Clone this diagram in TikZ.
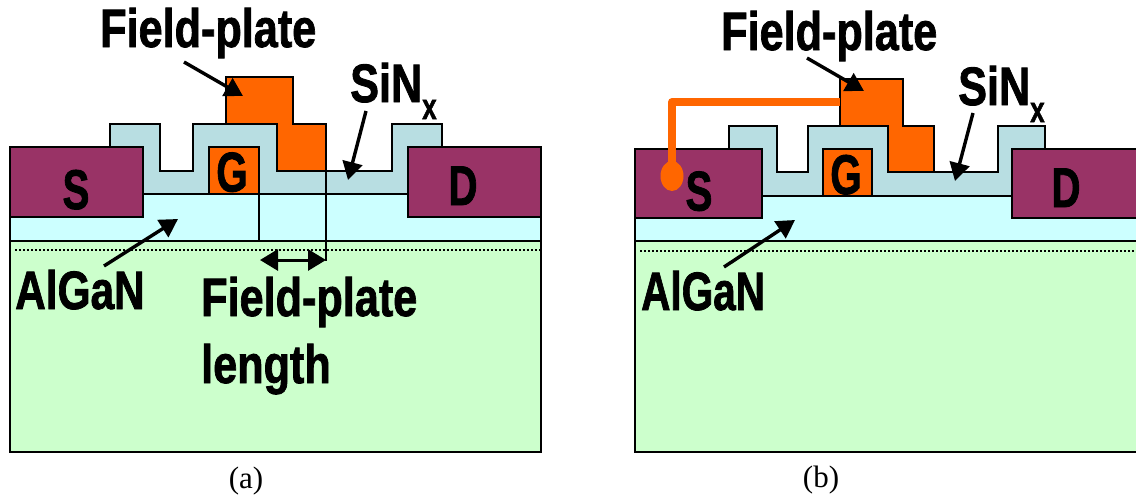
\documentclass[tikz,border=0pt]{standalone}
\usepackage{fontspec}
\setmainfont{Liberation Sans}[BoldFeatures={FakeBold=1.6}]
\newfontfamily\capfont{Liberation Serif}
\usetikzlibrary{arrows.meta}
\definecolor{bufferc}{RGB}{204,255,255}
\definecolor{substratec}{RGB}{204,255,204}
\definecolor{nitridec}{RGB}{184,222,226}
\definecolor{contactc}{RGB}{153,51,102}
\definecolor{platec}{RGB}{255,102,0}
\newcommand{\narrow}[2][.8]{\scalebox{#1}[1]{#2}}
\newcommand{\subx}{\raisebox{-17pt}{\fontsize{36}{36}\selectfont\narrow[.72]{x}}}
\tikzset{
  layer/.style={draw=black,line width=2.1},
  dotline/.style={dash pattern={on 2pt off 2pt},line width=2},
  label/.style={inner sep=0,anchor=base west,font=\fontsize{54}{54}\selectfont\bfseries},
  letter/.style={inner sep=0,anchor=base,font=\fontsize{56}{56}\selectfont\bfseries},
  pointer/.style={line width=3.4,-{Triangle[length=18,width=20]}},
  caption/.style={inner sep=0,anchor=base,font=\fontsize{31}{31}\selectfont\capfont}
}
\begin{document}
\begin{tikzpicture}[x=1pt,y=1pt,yscale=-1,xscale=1]
\clip (0,0) rectangle (1136,496);

%Panel a: layers
\draw [layer,fill=substratec] (10,241) rectangle (541,452);
\draw [layer,fill=bufferc] (10,194) rectangle (541,241);
\draw [dotline] (15,250) -- (541,250);
%Panel a: nitride
\draw [layer,fill=nitridec] (110,194) -- (110,124) -- (160,124) -- (160,171) -- (193,171) -- (193,124) -- (277,124) -- (277,171) -- (392,171) -- (392,124) -- (442,124) -- (442,194) -- cycle;
%Panel a: plate and gate
\draw [layer,fill=platec] (226,124) -- (226,77) -- (293,77) -- (293,124) -- (326,124) -- (326,171) -- (277,171) -- (277,124) -- cycle;
\draw [layer,fill=platec] (209,147) rectangle (259,194);
%Panel a: contacts
\draw [layer,fill=contactc] (10,147) rectangle (143,217);
\draw [layer,fill=contactc] (408,147) rectangle (541,217);
%Panel a: length marks
\coordinate (gateedge) at (259,194);
\coordinate (gatefoot) at (259,240);
\coordinate (plateedge) at (326,171);
\coordinate (platefoot) at (326,261);
\coordinate (lenleft) at (260,260);
\draw [line width=2.1] (gateedge) -- (gatefoot);
\draw [line width=2.1] (plateedge) -- (platefoot);
\draw [line width=3,{Triangle[length=18,width=21]}-{Triangle[length=18,width=21]}] (lenleft) -- (platefoot |- lenleft);

%Panel b: layers
\draw [layer,fill=substratec] (635,241) rectangle (1145,452);
\draw [layer,fill=bufferc] (635,196) rectangle (1145,241);
\draw [dotline] (640,251) -- (1136,251);
%Panel b: nitride
\draw [layer,fill=nitridec] (729,196) -- (729,126) -- (777,126) -- (777,172) -- (808,172) -- (808,126) -- (888,126) -- (888,172) -- (998,172) -- (998,126) -- (1045,126) -- (1045,196) -- cycle;
%Panel b: plate and gate
\draw [layer,fill=platec] (840,126) -- (840,79) -- (903,79) -- (903,126) -- (934,126) -- (934,172) -- (888,172) -- (888,126) -- cycle;
\draw [layer,fill=platec] (823,149) rectangle (872,196);
%Panel b: contacts
\draw [layer,fill=contactc] (635,149) rectangle (762,218);
\draw [layer,fill=contactc] (1012,149) rectangle (1145,218);
%Panel b: wire
\coordinate (wireend) at (840,102);
\coordinate (wirecorner) at (672,102);
\coordinate (wirefoot) at (672,176);
\draw [platec,line width=8,line join=round] (wireend) -- (wirecorner) -- (wirefoot);
\fill [platec] (wirefoot) ellipse [x radius=11.5,y radius=15];

% Text Node
\node (plateA) [label] at (100,47) {\narrow{Field-plate}};
\node (nitrideA) [label] at (350,102) {\narrow{SiN}\subx};
\node (bufferA) [label] at (15,309) {\narrow[.785]{AlGaN}};
\node (lengthA) [label] at (201,316) {\narrow{Field-plate}};
\node (lengthB) [label] at (201,383) {\narrow{length}};
\node (sourceA) [letter] at (76,209) {\narrow[.72]{S}};
\node (gateA) [letter] at (232,191.5) {\narrow[.72]{G}};
\node (drainA) [letter] at (463,205) {\narrow[.72]{D}};
\node (capA) [caption] at (246,488) {(a)};
\node (plateC) [label] at (721,50) {\narrow{Field-plate}};
\node (nitrideC) [label] at (958,105) {\narrow{SiN}\subx};
\node (bufferC) [label] at (641,310) {\narrow[.75]{AlGaN}};
\node (sourceC) [letter] at (699,210.5) {\narrow[.72]{S}};
\node (gateC) [letter] at (846,194) {\narrow[.72]{G}};
\node (drainC) [letter] at (1066,207) {\narrow[.72]{D}};
\node (capC) [caption] at (821,487) {(b)};

%Pointers
\coordinate (fpA) at (243,96);
\coordinate (fpTail) at (184,62);
\coordinate (siA) at (348,180);
\coordinate (siTail) at (366,111);
\coordinate (buA) at (178,219);
\coordinate (buTail) at (104,266);
\coordinate (fpC) at (864,91);
\coordinate (fpcTail) at (807,58);
\coordinate (siC) at (955,181);
\coordinate (sicTail) at (973,113);
\coordinate (buC) at (795,220);
\coordinate (bucTail) at (724,267);
\draw [pointer] (fpTail) -- (fpA);
\draw [pointer] (siTail) -- (siA);
\draw [pointer] (buTail) -- (buA);
\draw [pointer] (fpcTail) -- (fpC);
\draw [pointer] (sicTail) -- (siC);
\draw [pointer] (bucTail) -- (buC);
\end{tikzpicture}
\end{document}
